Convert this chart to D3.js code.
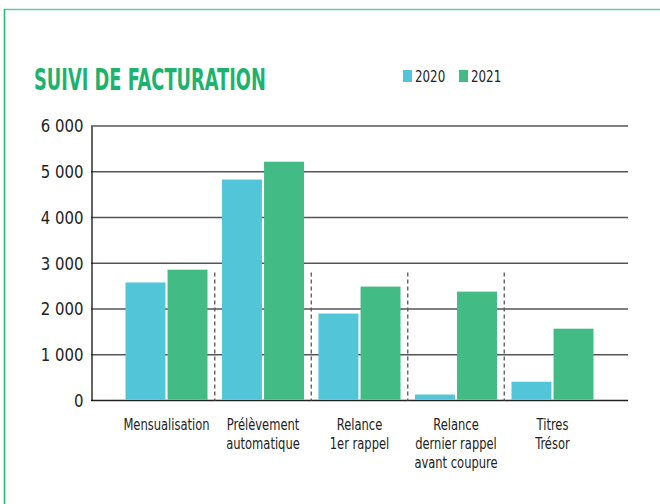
<!DOCTYPE html>
<html>
<head>
<meta charset="utf-8">
<script src="https://cdn.jsdelivr.net/npm/d3@7"></script>
<style>
  body { margin: 0; background: #fff; }
  svg text { font-family: "Liberation Sans Narrow", "DejaVu Sans Condensed", "Roboto", sans-serif; }
</style>
</head>
<body>
<div id="chart"></div>
<script>
// Chart data
var categories = ["Mensualisation", "Prélèvement automatique", "Relance 1er rappel", "Relance dernier rappel avant coupure", "Titres Trésor"];
var categoryLines = [["Mensualisation"], ["Prélèvement", "automatique"], ["Relance", "1er rappel"], ["Relance", "dernier rappel", "avant coupure"], ["Titres", "Trésor"]];
var years = ["2020", "2021"];
var values2020 = [2580, 4830, 1900, 130, 410];
var values2021 = [2860, 5220, 2490, 2380, 1570];
var yTicks = [0, 1000, 2000, 3000, 4000, 5000, 6000];
var colors = ["#52C5D8", "#42BC84"];

var svgWidth = 660;
var svgHeight = 504;

// squeeze text horizontally to mimic the narrow font of the original
function condense(sel, factor) {
  sel.each(function() {
    var w = this.getComputedTextLength();
    d3.select(this)
      .attr("textLength", w * factor)
      .attr("lengthAdjust", "spacingAndGlyphs");
  });
}

var svg = d3.select("#chart")
  .append("svg")
  .attr("width", svgWidth)
  .attr("height", svgHeight);

// Frame
svg.append("line")
  .attr("x1", 4).attr("x2", svgWidth).attr("y1", 9.5).attr("y2", 9.5)
  .attr("stroke", "#62C99C").attr("stroke-width", 1.5);
svg.append("line")
  .attr("x1", 4.5).attr("x2", 4.5).attr("y1", 9).attr("y2", svgHeight)
  .attr("stroke", "#1DBA6E").attr("stroke-width", 1.5);

// Title
svg.append("text")
  .attr("x", 34)
  .attr("y", 90)
  .attr("fill", "#1DB36F")
  .attr("font-size", 30)
  .attr("font-weight", "bold")
  .text("SUIVI DE FACTURATION")
  .call(condense, 0.66);

// Legend
var legend = svg.selectAll(".legend")
  .data(years)
  .enter().append("g")
  .attr("transform", (d, i) => `translate(${403 + i * 56}, 70)`);
legend.append("rect")
  .attr("width", 9).attr("height", 12)
  .attr("fill", (d, i) => colors[i]);
legend.append("text")
  .attr("x", 12).attr("y", 12)
  .attr("font-size", 16.5)
  .attr("fill", "#222")
  .text(d => d)
  .call(condense, 0.8);

// Scales
var xScale = d3.scaleBand()
  .domain(categories)
  .range([91, 628])
  .paddingInner(0.15)
  .paddingOuter(0.3575);

var xInner = d3.scaleBand()
  .domain(years)
  .range([0, xScale.bandwidth()])
  .paddingInner(0.05);

var yScale = d3.scaleLinear()
  .domain([0, 6000])
  .range([400.5, 126]);

// Gridlines
svg.append("g")
  .selectAll("line")
  .data(yTicks)
  .enter().append("line")
  .attr("x1", 91).attr("x2", 628)
  .attr("y1", d => yScale(d)).attr("y2", d => yScale(d))
  .attr("stroke", d => d === 0 ? "#222" : "#555")
  .attr("stroke-width", 1.5);

// Y axis
var leftAxis = d3.axisLeft(yScale)
  .tickValues(yTicks)
  .tickSize(0)
  .tickPadding(8)
  .tickFormat(d => d3.format(",")(d).replace(",", " "));

var yAxis = svg.append("g")
  .attr("transform", "translate(91.5, 0)")
  .call(leftAxis);
yAxis.select(".domain").attr("stroke", "#111").attr("stroke-width", 1.3);
yAxis.selectAll("text")
  .attr("font-size", 18)
  .attr("fill", "#222")
  .style("font-family", null);
yAxis.selectAll("text").call(condense, 0.92);

// Separators between groups
var separators = categories.slice(1);
svg.append("g")
  .selectAll("line")
  .data(separators)
  .enter().append("line")
  .attr("x1", d => xScale(d) - xScale.step() * xScale.paddingInner() / 2)
  .attr("x2", d => xScale(d) - xScale.step() * xScale.paddingInner() / 2)
  .attr("y1", yScale(2800))
  .attr("y2", yScale(0))
  .attr("stroke", "#555")
  .attr("stroke-width", 1.3)
  .attr("stroke-dasharray", "4,3");

// Bars
var series = [values2020, values2021];
var groups = svg.append("g")
  .selectAll("g")
  .data(categories)
  .enter().append("g")
  .attr("transform", d => `translate(${xScale(d)}, 0)`);

groups.selectAll("rect")
  .data((d, i) => years.map((y, j) => ({ year: y, value: series[j][i] })))
  .enter().append("rect")
  .attr("x", d => xInner(d.year))
  .attr("width", xInner.bandwidth())
  .attr("y", d => yScale(d.value))
  .attr("height", d => yScale(0) - yScale(d.value) - 0.8)
  .attr("fill", (d, j) => colors[j]);

// X labels, one text per line
var labelGroups = svg.append("g")
  .selectAll("g")
  .data(categories)
  .enter().append("g")
  .attr("transform", d => `translate(${xScale(d) + xScale.bandwidth() / 2}, 430)`);

labelGroups.selectAll("text")
  .data((d, i) => categoryLines[i])
  .enter().append("text")
  .attr("y", (d, i) => i * 19)
  .attr("text-anchor", "middle")
  .attr("font-size", 16)
  .attr("fill", "#222")
  .text(d => d)
  .call(condense, 0.8);
</script>
</body>
</html>
